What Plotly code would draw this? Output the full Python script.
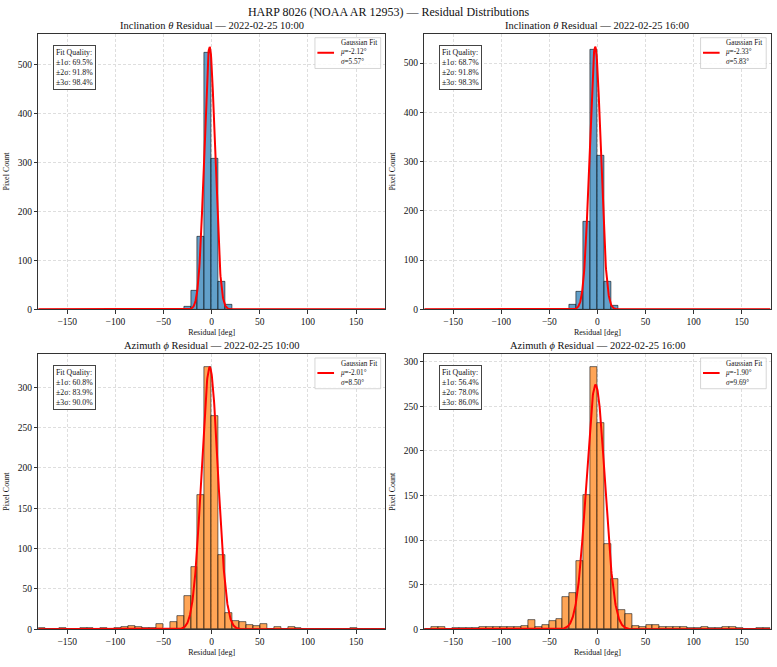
import numpy as np
import plotly.graph_objects as go

# ---------------- data ----------------
bin_edges = np.linspace(-180, 180, 51)          # 50 bins of 7.2 deg
bin_centers = (bin_edges[:-1] + bin_edges[1:]) / 2
bin_width = 7.2

incl_1000_counts = [0, 0, 0, 0, 0, 0, 0, 0, 0, 0,
                    0, 0, 0, 0, 0, 0, 0, 0, 0, 0,
                    0, 5, 38, 149, 525, 307, 57, 9, 0, 0,
                    0, 0, 0, 0, 0, 0, 0, 0, 0, 0,
                    0, 0, 0, 0, 0, 0, 0, 0, 0, 0]
incl_1600_counts = [0, 0, 0, 0, 0, 0, 0, 0, 0, 0,
                    0, 0, 0, 0, 0, 0, 0, 0, 0, 0,
                    0, 9, 36, 177, 528, 312, 57, 8, 0, 0,
                    0, 0, 0, 0, 0, 0, 0, 0, 0, 0,
                    0, 0, 0, 0, 0, 0, 0, 0, 0, 0]
azim_1000_counts = [1, 0, 0, 2, 0, 0, 2, 2, 0, 1,
                    0, 1, 3, 4, 3, 2, 2, 6, 0, 9,
                    16, 41, 77, 167, 325, 265, 92, 20, 10, 9,
                    5, 4, 6, 0, 3, 0, 3, 2, 0, 0,
                    0, 0, 0, 0, 0, 1, 0, 0, 0, 0]
azim_1600_counts = [0, 3, 3, 0, 1, 1, 1, 1, 2, 2,
                    2, 3, 3, 3, 4, 10, 3, 5, 9, 12,
                    36, 41, 77, 151, 294, 231, 96, 56, 22, 17,
                    4, 3, 5, 5, 2, 2, 2, 2, 1, 1,
                    2, 1, 1, 3, 2, 1, 0, 0, 1, 1]

fit_amp = [536, 533, 325, 274]
fit_mu = [-2.12, -2.33, -2.01, -1.90]
fit_sigma = [5.57, 5.83, 8.50, 9.69]
within_1sigma = [69.5, 68.7, 60.8, 56.4]
within_2sigma = [91.8, 91.8, 83.9, 78.0]
within_3sigma = [98.4, 98.3, 90.0, 86.0]

panel_titles = ["Inclination <i>θ</i> Residual — 2022-02-25 10:00",
                "Inclination <i>θ</i> Residual — 2022-02-25 16:00",
                "Azimuth <i>ϕ</i> Residual — 2022-02-25 10:00",
                "Azimuth <i>ϕ</i> Residual — 2022-02-25 16:00"]
panel_counts = [incl_1000_counts, incl_1600_counts, azim_1000_counts, azim_1600_counts]
x_tick_vals = [-150, -100, -50, 0, 50, 100, 150]

# ---------------- style ----------------
FONT = "Liberation Serif, Times New Roman, serif"
W, H = 777, 667
bar_fill = ["rgba(31,119,180,0.7)", "rgba(31,119,180,0.7)",
            "rgba(255,127,14,0.7)", "rgba(255,127,14,0.7)"]
x_domains = [[38.3 / W, 385.0 / W], [424.3 / W, 770.5 / W],
             [38.3 / W, 385.0 / W], [424.3 / W, 770.5 / W]]
y_domains = [[1 - 311.7 / H, 1 - 34.0 / H], [1 - 311.7 / H, 1 - 34.0 / H],
             [1 - 634.0 / H, 1 - 356.7 / H], [1 - 634.0 / H, 1 - 356.7 / H]]
y_dticks = [100, 100, 50, 50]

fig = go.Figure()
x_fit = np.linspace(-180, 180, 1441)

for i in range(4):
    xa = "x" if i == 0 else f"x{i+1}"
    ya = "y" if i == 0 else f"y{i+1}"
    fig.add_trace(go.Bar(
        x=bin_centers, y=panel_counts[i], width=bin_width,
        marker=dict(color=bar_fill[i], line=dict(color="rgba(0,0,0,0.7)", width=0.8)),
        xaxis=xa, yaxis=ya, showlegend=False, hoverinfo="x+y"))
    y_fit = fit_amp[i] * np.exp(-0.5 * ((x_fit - fit_mu[i]) / fit_sigma[i]) ** 2)
    fig.add_trace(go.Scatter(
        x=x_fit, y=y_fit, mode="lines", line=dict(color="red", width=2),
        xaxis=xa, yaxis=ya, showlegend=False, name="Gaussian Fit"))

    ymax = max(max(panel_counts[i]), fit_amp[i]) * 1.05
    axis_common = dict(showline=True, mirror=True, linecolor="#333333", linewidth=1,
                       ticks="outside", ticklen=3.5, tickwidth=0.8, tickcolor="#333333",
                       showgrid=True, gridcolor="#dedede", griddash="3px,2px", gridwidth=0.8,
                       zeroline=False,
                       tickfont=dict(family=FONT, size=9.5, color="#111111"))
    fig.layout[f"xaxis{'' if i == 0 else i+1}"] = dict(
        domain=x_domains[i], range=[-180, 180], anchor=ya,
        tickvals=x_tick_vals,
        title=dict(text="Residual [deg]", font=dict(family=FONT, size=8, color="#111111"), standoff=3),
        **axis_common)
    fig.layout[f"yaxis{'' if i == 0 else i+1}"] = dict(
        domain=y_domains[i], range=[0, ymax], anchor=xa, dtick=y_dticks[i], tick0=0,
        title=dict(text="Pixel Count", font=dict(family=FONT, size=8, color="#111111"), standoff=6),
        **axis_common)

    # subplot title
    fig.add_annotation(text=panel_titles[i], xref="paper", yref="paper",
                       x=(x_domains[i][0] + x_domains[i][1]) / 2,
                       y=y_domains[i][1] + 8.5 / H, xanchor="center", yanchor="middle",
                       showarrow=False, font=dict(family=FONT, size=10.5, color="#111111"))

    # fit-quality box
    fq = (f"Fit Quality:<br>±1σ: {within_1sigma[i]:.1f}%<br>"
          f"±2σ: {within_2sigma[i]:.1f}%<br>±3σ: {within_3sigma[i]:.1f}%")
    fig.add_annotation(text=fq, xref=f"{xa} domain", yref=f"{ya} domain",
                       x=0.043, y=0.96, xanchor="left", yanchor="top", align="left",
                       showarrow=False, bgcolor="rgba(255,255,255,0.85)",
                       bordercolor="#444444", borderwidth=1, borderpad=2,
                       font=dict(family=FONT, size=7.8, color="#111111"))

    # legend box (drawn)
    fig.add_shape(type="rect", xref=f"{xa} domain", yref=f"{ya} domain",
                  x0=0.798, x1=0.9876, y0=0.874, y1=0.9856,
                  line=dict(color="#cccccc", width=0.8), fillcolor="rgba(255,255,255,0.85)")
    fig.add_shape(type="line", xref=f"{xa} domain", yref=f"{ya} domain",
                  x0=0.805, x1=0.853, y0=0.931, y1=0.931,
                  line=dict(color="red", width=2))
    leg = f"Gaussian Fit<br><i>μ</i>={fit_mu[i]:.2f}°<br><i>σ</i>={fit_sigma[i]:.2f}°"
    fig.add_annotation(text=leg, xref=f"{xa} domain", yref=f"{ya} domain",
                       x=0.867, y=0.931, xanchor="left", yanchor="middle", align="left",
                       showarrow=False, font=dict(family=FONT, size=7.2, color="#111111"))

fig.update_layout(
    width=W, height=H, margin=dict(l=0, r=0, t=0, b=0),
    paper_bgcolor="white", plot_bgcolor="white",
    bargap=0, showlegend=False,
    title=dict(text="HARP 8026 (NOAA AR 12953) — Residual Distributions",
               x=0.5, xanchor="center", y=1 - 11.7 / H, yanchor="middle",
               font=dict(family=FONT, size=12, color="#111111")),
    font=dict(family=FONT),
)

fig.write_html("out.html")
